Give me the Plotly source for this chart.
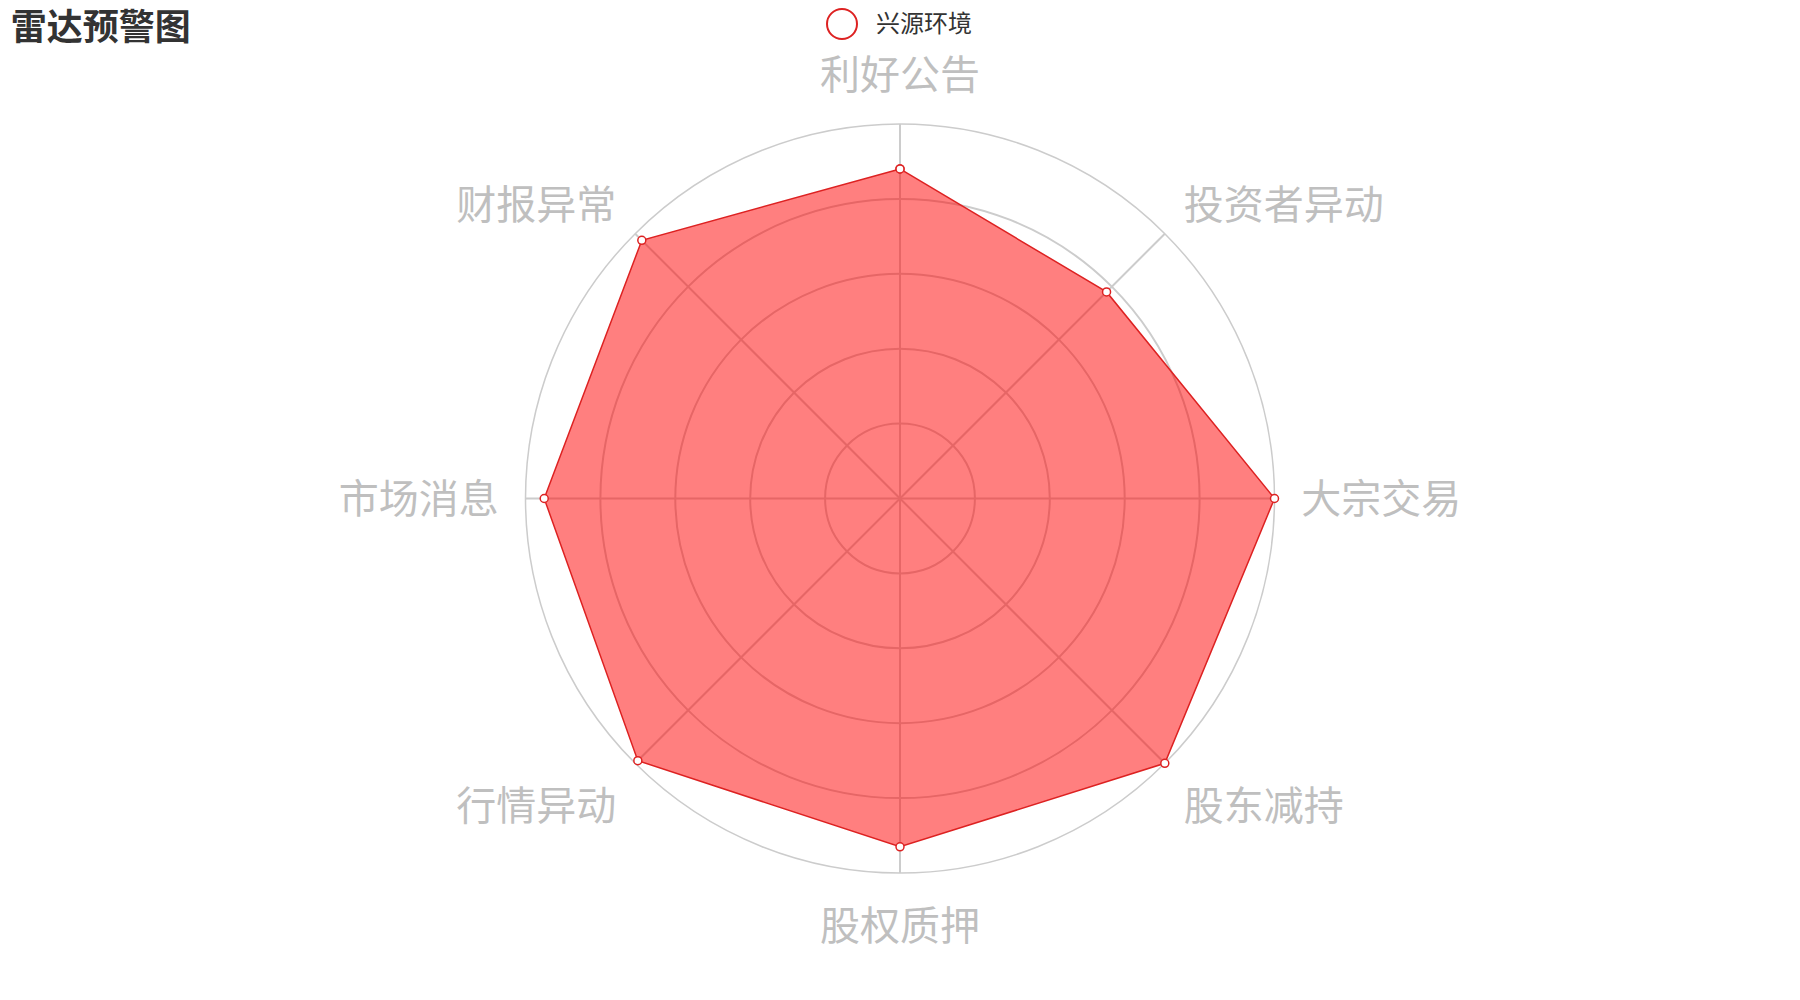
import plotly.graph_objects as go

categories = ["利好公告", "投资者异动", "大宗交易", "股东减持", "股权质押", "行情异动", "市场消息", "财报异常"]
values = [88, 78, 100, 100, 93, 99, 95, 97.5]
series_name = "兴源环境"
title_text = "雷达预警图"
radial_ticks = [20, 40, 60, 80, 100]

W, H = 1800, 1000
MT, MB = 124, 127
PH = H - MT - MB

def px_y(py):
    return (H - MB - py) / PH

def px_x(px):
    return px / W

red = "#dd2222"
font_cn = "Noto Sans CJK SC"

fig = go.Figure()
fig.add_trace(go.Scatterpolar(
    r=values + values[:1],
    theta=categories + categories[:1],
    mode="lines+markers",
    fill="toself",
    fillcolor="rgba(255,0,0,0.5)",
    line=dict(color=red, width=1.5),
    marker=dict(size=8, color="white", line=dict(color=red, width=1.5)),
    name=series_name,
    cliponaxis=False,
    showlegend=False,
))

fig.update_layout(
    width=W, height=H,
    margin=dict(l=0, r=0, t=MT, b=MB),
    paper_bgcolor="white",
    plot_bgcolor="white",
    font=dict(family=font_cn),
    title=dict(text="<b>" + title_text + "</b>", x=0.006, xanchor="left", xref="container",
               y=0.973, yanchor="middle", yref="container",
               font=dict(size=36, color="#333333", family=font_cn)),
    polar=dict(
        bgcolor="white",
        domain=dict(x=[0, 1], y=[0, 1]),
        radialaxis=dict(range=[0, 100], tickvals=radial_ticks, showticklabels=False,
                        showline=False, ticks="", gridcolor="#cccccc", gridwidth=1.5,
                        layer="below traces"),
        angularaxis=dict(direction="clockwise", rotation=90, showline=True,
                         linecolor="#cccccc", linewidth=1.5, gridcolor="#cccccc", gridwidth=1.5,
                         ticks="outside", ticklen=18, tickcolor="rgba(0,0,0,0)",
                         layer="below traces",
                         tickfont=dict(size=40, color="#bfbfbf", family=font_cn)),
    ),
    shapes=[dict(type="circle", xref="paper", yref="paper",
                 x0=px_x(827), x1=px_x(857), y0=px_y(39), y1=px_y(9),
                 line=dict(color=red, width=2), fillcolor="white")],
    annotations=[dict(text=series_name, xref="paper", yref="paper",
                      x=px_x(874), y=px_y(22), xanchor="left", yanchor="middle",
                      showarrow=False, font=dict(size=24, color="#333333", family=font_cn))],
)

fig.write_html("out.html")
